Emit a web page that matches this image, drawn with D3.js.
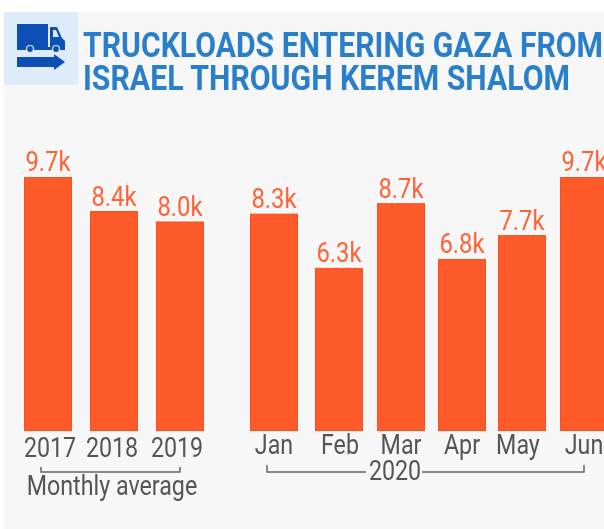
<!DOCTYPE html>
<html><head><meta charset="utf-8">
<script src="https://cdn.jsdelivr.net/npm/d3@7/dist/d3.min.js"></script>
<style>html,body{margin:0;padding:0;background:#fff;overflow:hidden}text{font-family:Roboto,sans-serif}</style>
</head><body><svg id="c" width="604" height="529"></svg>
<script>
const categories = ["2017","2018","2019","Jan","Feb","Mar","Apr","May","Jun"];
const values = [9.7,8.4,8.0,8.3,6.23,8.7,6.57,7.48,9.7];
const valueLabels = ["9.7k","8.4k","8.0k","8.3k","6.3k","8.7k","6.8k","7.7k","9.7k"];
const titleLines = ["TRUCKLOADS ENTERING GAZA FROM","ISRAEL THROUGH KEREM SHALOM"];
const averageLabel = "Monthly average";
const yearLabel = "2020";

const svg = d3.select("#c");
const defs = svg.append("defs");
defs.append("filter").attr("id","soft").attr("x","-5%").attr("y","-5%").attr("width","110%").attr("height","110%")
  .append("feGaussianBlur").attr("stdDeviation",0.55);
svg.append("rect").attr("x",4).attr("y",12).attr("width",600).attr("height",517).attr("fill","#f7f7f7");
svg.append("rect").attr("x",4).attr("y",12).attr("width",74).attr("height",73).attr("fill","#deebfb");
const g = svg.append("g").attr("filter","url(#soft)");

const x = d3.scaleOrdinal().domain(categories).range([24,90,156,250,315,377,438,498,560]);
const xLabel = d3.scaleOrdinal().domain(categories).range([50,112,177,274,340,401,462,518,584]);
const yLabel = d3.scaleOrdinal().domain(categories).range([457,457,457,454,454,454,454,454,454]);
const barW = 48;
const y = d3.scaleLinear().domain([0,9.7]).range([431,177]);
const squeezed = (sel,cx,sx)=>sel.attr("transform",d=>{const c=cx(d);return `translate(${c*(1-sx)} 0) scale(${sx} 1)`;});

g.selectAll("rect.bar").data(categories).join("rect").attr("class","bar")
 .attr("x",d=>x(d)+0.5).attr("width",barW-1)
 .attr("y",(d,i)=>y(values[i])+0.5).attr("height",(d,i)=>y(0)-y(values[i])-1)
 .attr("fill","#ff5a2c").attr("stroke","#ff4d1c").attr("stroke-width",1);

g.selectAll("text.v").data(categories).join("text").attr("class","v")
 .attr("x",d=>x(d)+barW/2).attr("y",(d,i)=>y(values[i])-5.5)
 .attr("text-anchor","middle").attr("font-size",28).attr("fill","#ff6236")
 .call(squeezed,d=>x(d)+barW/2,0.85)
 .text((d,i)=>valueLabels[i]);

g.selectAll("text.c").data(categories).join("text").attr("class","c")
 .attr("x",d=>xLabel(d)).attr("y",d=>yLabel(d))
 .attr("text-anchor","middle").attr("font-size",28).attr("fill","#555")
 .call(squeezed,d=>xLabel(d),0.83)
 .text(d=>d);

const br = (x1,x2,yy,tick)=>g.append("path").attr("d",`M${x1},${yy-tick}V${yy}H${x2}V${yy-tick}`)
 .attr("fill","none").attr("stroke","#666").attr("stroke-width",1.5);
br(41,180,472,5);
br(267,584,472,7);
g.append("rect").attr("x",366).attr("y",462).attr("width",56).attr("height",22).attr("fill","#f7f7f7");
g.append("text").datum(395).attr("x",395).attr("y",480).attr("text-anchor","middle").attr("font-size",28).attr("fill","#555")
 .call(squeezed,d=>d,0.83).text(yearLabel);
g.append("text").datum(112).attr("x",112).attr("y",495).attr("text-anchor","middle").attr("font-size",28).attr("fill","#555")
 .call(squeezed,d=>d,0.83).text(averageLabel);

[[83,57,520],[83,90,487]].forEach((p,i)=>{
 g.append("text").attr("x",p[0]).attr("y",p[1]).attr("font-size",35).attr("font-weight",700)
  .attr("fill","#2b7fcb").attr("textLength",p[2]).attr("lengthAdjust","spacingAndGlyphs").text(titleLines[i]);
});

const ic = g.append("g").attr("fill","#0b50b4");
ic.append("path").attr("d","M17,24H48V47H17Z");
ic.append("path").attr("d","M50,27H57L62,38L65,41V48H50Z");
ic.append("path").attr("d","M17,47H65V50H17Z");
ic.append("circle").attr("cx",30).attr("cy",49).attr("r",3.5).attr("stroke","#deebfb").attr("stroke-width",1.2);
ic.append("circle").attr("cx",56).attr("cy",49).attr("r",3.5).attr("stroke","#deebfb").attr("stroke-width",1.2);
ic.append("path").attr("d","M17,57H54V54L65,62L54,70V67H17Z");
ic.append("path").attr("d","M53,30H56L59,37H53Z").attr("fill","#deebfb");
</script></body></html>
